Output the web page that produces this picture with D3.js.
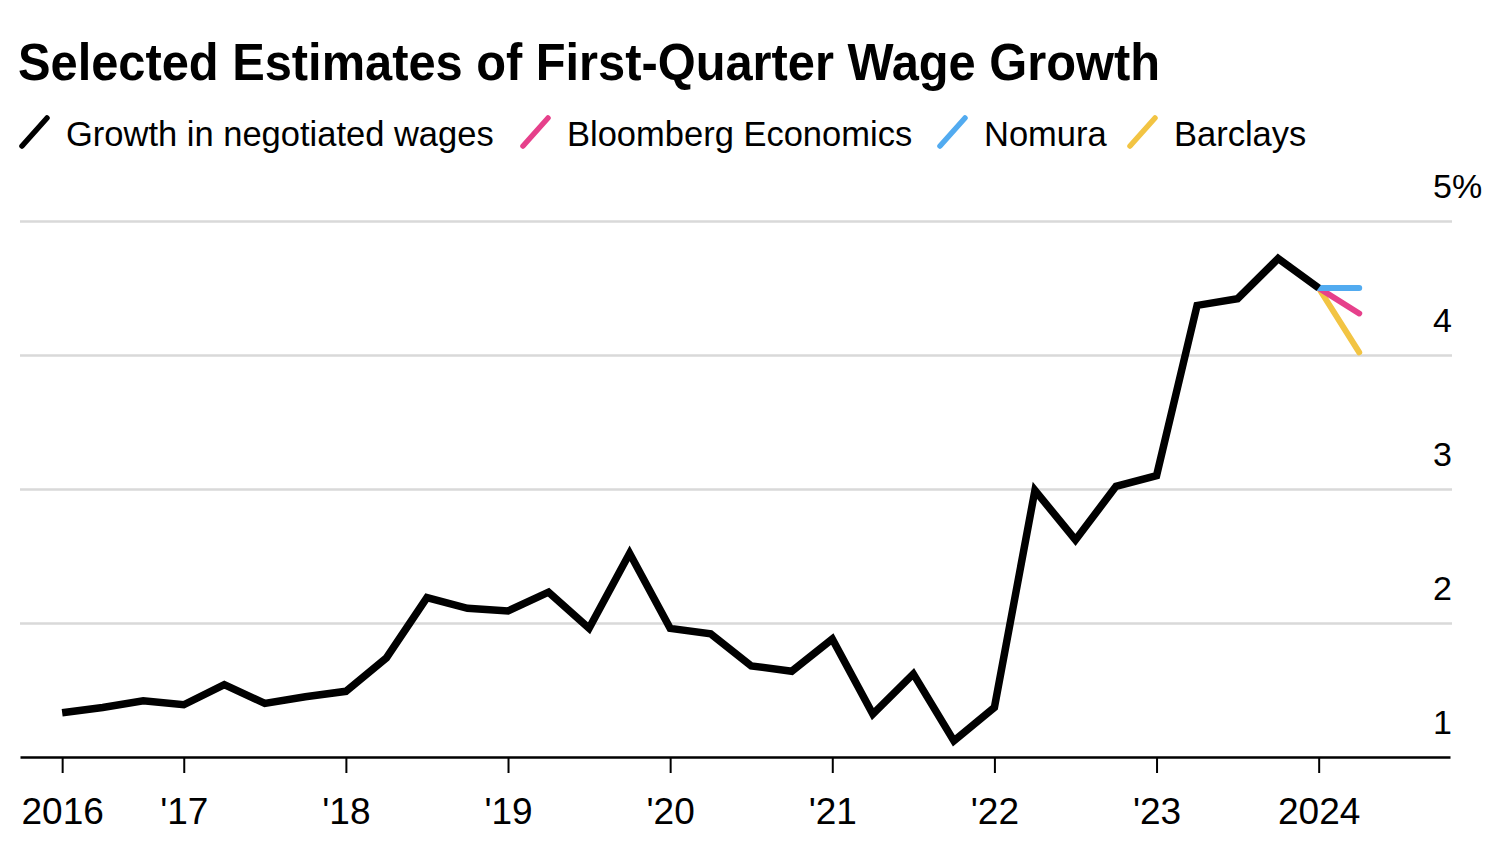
<!DOCTYPE html>
<html><head><meta charset="utf-8">
<script src="https://cdn.jsdelivr.net/npm/d3@7"></script>
<style>
body{margin:0;background:#fff}
svg{display:block}
text{font-family:"Liberation Sans",Arial,Helvetica,sans-serif;fill:#000}
</style>
</head><body>
<svg id="c" width="1500" height="850"></svg>
<script>
// ---- data ----
const quarters = ["2016Q1","2016Q2","2016Q3","2016Q4","2017Q1","2017Q2","2017Q3","2017Q4",
  "2018Q1","2018Q2","2018Q3","2018Q4","2019Q1","2019Q2","2019Q3","2019Q4",
  "2020Q1","2020Q2","2020Q3","2020Q4","2021Q1","2021Q2","2021Q3","2021Q4",
  "2022Q1","2022Q2","2022Q3","2022Q4","2023Q1","2023Q2","2023Q3","2023Q4"];
const negotiatedWages = [1.33,1.37,1.42,1.39,1.54,1.40,1.45,1.49,
  1.74,2.19,2.11,2.09,2.23,1.96,2.52,1.96,
  1.92,1.68,1.64,1.88,1.32,1.62,1.12,1.37,
  2.99,2.62,3.02,3.10,4.37,4.42,4.72,4.50];
const estimateQuarter = "2024Q1";
const estimateNames = ["Barclays","Bloomberg Economics","Nomura"];
const estimateValues = [4.02, 4.31, 4.50];
const legendNames = ["Growth in negotiated wages","Bloomberg Economics","Nomura","Barclays"];
const xTickValues = [2016.25,2017,2018,2019,2020,2021,2022,2023,2024];
const xTickLabels = ["2016","'17","'18","'19","'20","'21","'22","'23","2024"];
const yTickValues = [1,2,3,4,5];
const yTickLabels = ["1","2","3","4","5"];

const colors = {"Growth in negotiated wages":"#000000","Bloomberg Economics":"#e6408b","Nomura":"#52abf0","Barclays":"#f2c443"};
const legendX = [22, 523, 940, 1130];

// ---- setup ----
const svg = d3.select("#c");
const qPos = q => +q.slice(0,4) + (+q.slice(5))*0.25;   // plotted at quarter end
const x = d3.scaleLinear().domain([2015.99, 2024.81]).range([20,1450]);
const y = d3.scaleLinear().domain([1,5]).range([757,221]);

// title
svg.append("text").attr("x",18).attr("y",80)
  .attr("font-size",52).attr("font-weight","bold")
  .attr("textLength",1142).attr("lengthAdjust","spacingAndGlyphs")
  .text("Selected Estimates of First-Quarter Wage Growth");

// legend
const lg = svg.append("g");
legendNames.forEach((n,i)=>{
  const lx = legendX[i];
  lg.append("line").attr("x1",lx).attr("y1",146).attr("x2",lx+25).attr("y2",118)
    .attr("stroke",colors[n]).attr("stroke-width",5.5).attr("stroke-linecap","round");
  lg.append("text").attr("x",lx+44).attr("y",146).attr("font-size",34.5).text(n);
});

// y axis / gridlines
const yAxis = d3.axisRight(y).tickValues(yTickValues).tickSize(-(1452-20)).tickFormat((d,i)=>yTickLabels[i]);
const yg = svg.append("g").attr("transform","translate(1452,0)").call(yAxis);
yg.select(".domain").remove();
yg.selectAll(".tick line").attr("stroke","#d9d9d9").attr("stroke-width",2.5)
  .attr("display",d=>d===1?"none":null);
yg.selectAll(".tick text").attr("x",0).attr("y",-24).attr("dy",0)
  .attr("text-anchor","end").attr("font-size",34).attr("font-family",null).attr("fill","#000");
yg.selectAll(".tick").filter(d=>d===5).append("text")
  .attr("x",0).attr("y",-24).attr("font-size",34).attr("text-anchor","start").text("%");

// x axis
const xAxis = d3.axisBottom(x).tickValues(xTickValues).tickSize(16).tickSizeOuter(0)
  .tickFormat((d,i)=>xTickLabels[i]);
const xg = svg.append("g").attr("transform",`translate(0,${y(1)})`).call(xAxis);
xg.select(".domain").attr("stroke","#000").attr("stroke-width",2.5);
xg.selectAll(".tick line").attr("stroke","#000").attr("stroke-width",2);
xg.selectAll(".tick text").attr("y",67).attr("dy",0).attr("font-size",37)
  .attr("font-family",null).attr("fill","#000");

// estimate lines
const lastQ = quarters[quarters.length-1];
const lastV = negotiatedWages[negotiatedWages.length-1];
estimateNames.forEach((n,i)=>{
  svg.append("line")
    .attr("x1",x(qPos(lastQ))).attr("y1",y(lastV))
    .attr("x2",x(qPos(estimateQuarter))).attr("y2",y(estimateValues[i]))
    .attr("stroke",colors[n]).attr("stroke-width",6).attr("stroke-linecap","round");
});

// main line
const line = d3.line().x(d=>x(qPos(d[0]))).y(d=>y(d[1]));
svg.append("path").datum(quarters.map((q,i)=>[q,negotiatedWages[i]]))
  .attr("d",line).attr("fill","none").attr("stroke","#000")
  .attr("stroke-width",7.5).attr("stroke-linejoin","miter");
</script>
</body></html>
